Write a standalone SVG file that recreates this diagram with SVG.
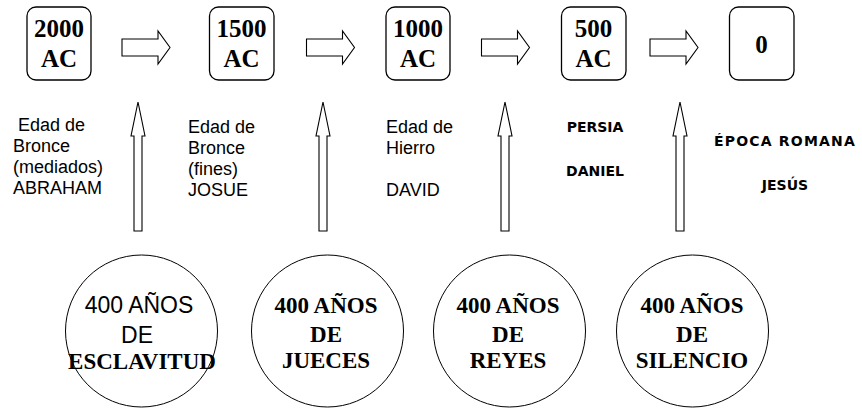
<svg xmlns="http://www.w3.org/2000/svg" width="862" height="411" viewBox="0 0 862 411">
<style>
.box{fill:#fff;stroke:#000;stroke-width:1.3}
.yr{font-family:"Liberation Serif",serif;font-weight:bold;font-size:25px;text-anchor:middle;fill:#000}
.arr{fill:#fff;stroke:#000;stroke-width:1.1}
.circ{fill:none;stroke:#000;stroke-width:1}
.lab{font-family:"Liberation Sans",Arial,sans-serif;font-size:18px;fill:#000}
.cp{font-family:"DejaVu Sans",sans-serif;font-weight:bold;font-size:14px;fill:#000;text-anchor:middle}
.ct{font-family:"Liberation Serif",serif;font-weight:bold;font-size:23px;text-anchor:middle;fill:#000}
.ca{font-family:"Liberation Sans",Arial,sans-serif;font-size:23px;text-anchor:middle;fill:#000}
</style>
<defs>
<path id="ra" d="M0,8 H36 V0 L48,16.5 L36,33 V25 H0 Z"/>
<path id="ua" d="M0,0 L7,34 H4 V129 H-4 V34 H-7 Z"/>
</defs>
<rect width="862" height="411" fill="#fff"/>
<g id="b2000"><rect class="box" x="27" y="7" width="64" height="73" rx="9"/><text class="yr" x="59" y="37">2000</text><text class="yr" x="59" y="67">AC</text></g>
<g id="b1500"><rect class="box" x="209.5" y="7" width="64.5" height="73" rx="9"/><text class="yr" x="241.5" y="37">1500</text><text class="yr" x="241.5" y="67">AC</text></g>
<g id="b1000"><rect class="box" x="386" y="7" width="64" height="73" rx="9"/><text class="yr" x="418" y="37">1000</text><text class="yr" x="418" y="67">AC</text></g>
<g id="b500"><rect class="box" x="561.5" y="7" width="64.5" height="73" rx="9"/><text class="yr" x="593.5" y="37">500</text><text class="yr" x="593.5" y="67">AC</text></g>
<g id="b0"><rect class="box" x="729.5" y="7" width="64.5" height="73" rx="9"/><text class="yr" x="761.5" y="53">0</text></g>
<g id="connectors">
<use href="#ra" x="122" y="31" class="arr"/>
<use href="#ra" x="306.5" y="31" class="arr"/>
<use href="#ra" x="481.5" y="31" class="arr"/>
<use href="#ra" x="650" y="31" class="arr"/>
<use href="#ua" x="138" y="102" class="arr"/>
<use href="#ua" x="323" y="102" class="arr"/>
<use href="#ua" x="505" y="102" class="arr"/>
<use href="#ua" x="680" y="102" class="arr"/>
</g>
<g id="l1" class="lab"><text x="13" y="131" xml:space="preserve"> Edad de</text><text x="13" y="152">Bronce</text><text x="13" y="173">(mediados)</text><text x="13" y="194">ABRAHAM</text></g>
<g id="l2" class="lab"><text x="188" y="133">Edad de</text><text x="188" y="154">Bronce</text><text x="188" y="175">(fines)</text><text x="188" y="196">JOSUE</text></g>
<g id="l3" class="lab"><text x="386" y="133">Edad de</text><text x="386" y="154">Hierro</text><text x="386" y="196">DAVID</text></g>
<g id="l4"><text class="cp" x="595" y="132">PERSIA</text><text class="cp" x="595" y="176">DANIEL</text></g>
<g id="l5"><text class="cp" x="785" y="146" style="letter-spacing:1.2px">ÉPOCA ROMANA</text><text class="cp" x="785" y="190">JESÚS</text></g>
<g id="c1"><circle class="circ" cx="141.5" cy="331" r="76"/><text class="ca" x="139" y="313">400 AÑOS</text><text class="ca" x="137" y="343">DE</text><text class="ct" x="142" y="369">ESCLAVITUD</text></g>
<g id="c2"><circle class="circ" cx="327.5" cy="331" r="76"/><text class="ct" x="326" y="313">400 AÑOS</text><text class="ct" x="326" y="342">DE</text><text class="ct" x="326" y="368">JUECES</text></g>
<g id="c3"><circle class="circ" cx="509.5" cy="331" r="76"/><text class="ct" x="508" y="313">400 AÑOS</text><text class="ct" x="508" y="342">DE</text><text class="ct" x="508" y="368">REYES</text></g>
<g id="c4"><circle class="circ" cx="692.5" cy="331" r="76"/><text class="ct" x="692" y="313">400 AÑOS</text><text class="ct" x="692" y="342">DE</text><text class="ct" x="692" y="368">SILENCIO</text></g>
</svg>
